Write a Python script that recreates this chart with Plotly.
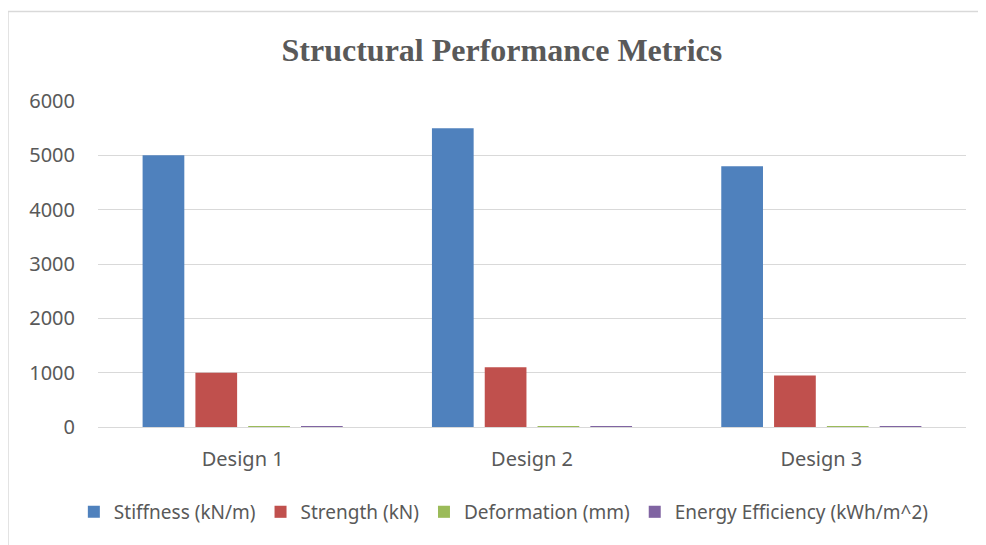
import plotly.graph_objects as go

designs = ["Design 1", "Design 2", "Design 3"]
stiffness = [5000, 5500, 4800]
strength = [1000, 1100, 950]
deformation = [0.5, 0.4, 0.6]
energy_eff = [8, 7, 8]

series = [
    ("Stiffness (kN/m)", stiffness, "#4F81BD"),
    ("Strength (kN)", strength, "#C0504D"),
    ("Deformation (mm)", deformation, "#9BBB59"),
    ("Energy Efficiency (kWh/m^2)", energy_eff, "#8064A2"),
]

fig = go.Figure()
for name, vals, color in series:
    fig.add_trace(go.Bar(x=designs, y=vals, name=name, marker_color=color,
                         marker_line_width=0))

# outer chart frame (only left/top edges visible in the reference)
fig.add_shape(type="rect", xref="paper", yref="paper",
              x0=-0.1037, x1=1.2, y0=-0.6, y1=1.2745,
              line=dict(color="#D9D9D9", width=1.5), layer="below")

# page body adds an 8px margin, so the figure is 8px smaller
fig.update_layout(
    width=978, height=537,
    margin=dict(l=90, r=20, t=93, b=118, autoexpand=False),
    paper_bgcolor="white", plot_bgcolor="white",
    barmode="group", bargap=0.27, bargroupgap=0.21,
    title=dict(text="<b>Structural Performance Metrics</b>", x=0.505, xanchor="center",
               y=0.922, yanchor="middle",
               font=dict(family="Liberation Serif", size=32, color="#595959")),
    font=dict(family="Noto Sans", size=20, color="#595959"),
    yaxis=dict(range=[0, 6000], dtick=1000, showgrid=True, gridcolor="#D9D9D9",
               gridwidth=1, zeroline=False, showline=False, ticks="",
               ticklabelstandoff=22, tickfont=dict(size=20, color="#595959")),
    xaxis=dict(showline=True, linecolor="#D9D9D9", linewidth=1, ticks="",
               tickangle=0,
               ticklabelstandoff=14, tickfont=dict(size=20, color="#595959")),
    legend=dict(orientation="h", xref="container", yref="container",
                x=0.507, xanchor="center", y=0.0615, yanchor="middle",
                font=dict(size=19, color="#595959"), itemwidth=30,
                traceorder="normal"),
    showlegend=True,
)

fig.write_html("out.html")
